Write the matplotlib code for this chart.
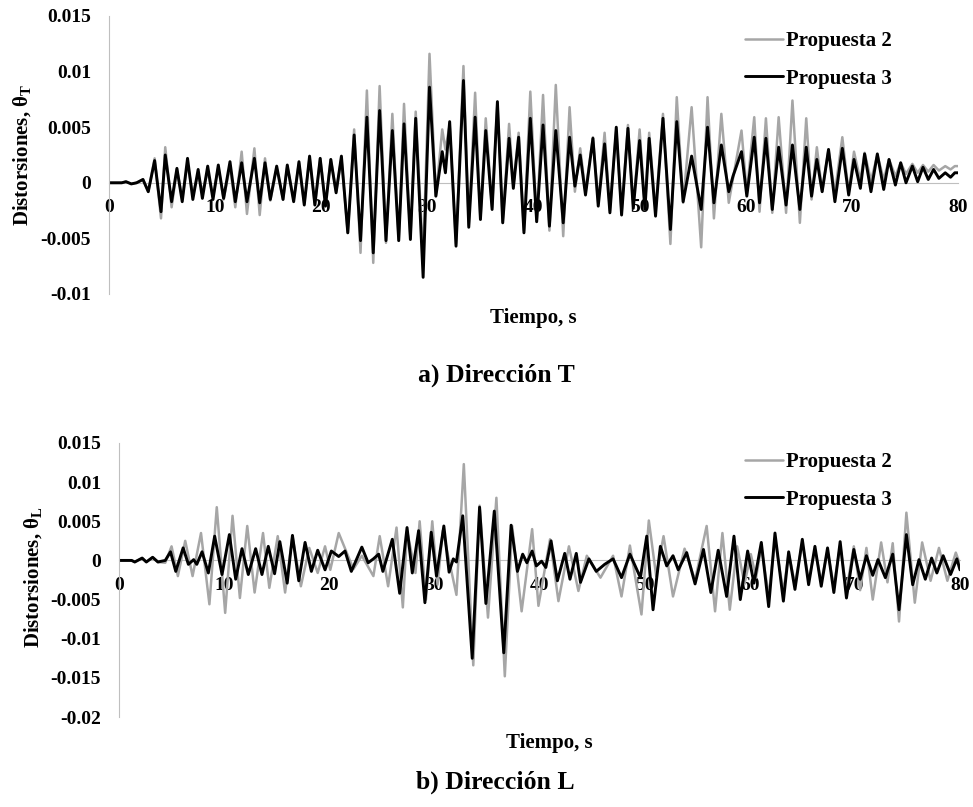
import numpy as np
import matplotlib
matplotlib.use('Agg')
from matplotlib import pyplot as plt

# --- data: peaks / troughs (time s, drift) ---

# a) Direccion T  (both series share the extremum times)
t_T = [0, 1.2, 1.6, 2.1, 2.6, 3.2, 3.7, 4.3, 4.9, 5.3,
       5.9, 6.4, 6.9, 7.4, 7.9, 8.4, 8.8, 9.3, 9.8, 10.3,
       10.8, 11.4, 11.9, 12.5, 13.0, 13.7, 14.2, 14.7, 15.2, 15.8,
       16.4, 16.8, 17.4, 17.9, 18.4, 18.9, 19.4, 19.9, 20.4, 20.9,
       21.4, 21.9, 22.5, 23.1, 23.7, 24.3, 24.9, 25.5, 26.1, 26.7,
       27.3, 27.8, 28.4, 28.9, 29.6, 30.2, 30.8, 31.4, 31.7, 32.1,
       32.7, 33.4, 33.9, 34.5, 35.0, 35.5, 36.1, 36.6, 37.1, 37.7,
       38.1, 38.6, 39.1, 39.7, 40.3, 40.9, 41.5, 42.1, 42.8, 43.4,
       43.9, 44.4, 44.9, 45.6, 46.1, 46.7, 47.2, 47.8, 48.3, 48.9,
       49.4, 50.0, 50.5, 50.9, 51.5, 52.2, 52.9, 53.5, 54.1, 54.9,
       55.8, 56.4, 57.0, 57.7, 58.4, 58.8, 59.6, 60.1, 60.8, 61.3,
       61.9, 62.5, 63.1, 63.8, 64.4, 65.1, 65.7, 66.2, 66.7, 67.2,
       67.8, 68.4, 69.1, 69.7, 70.2, 70.8, 71.2, 71.8, 72.4, 73.0,
       73.5, 74.1, 74.6, 75.1, 75.7, 76.2, 76.7, 77.2, 77.7, 78.2,
       78.8, 79.3, 79.7, 80.0]

p3_T = [0, 0, 0.0001, -0.0001, 0, 0.0003, -0.0008, 0.0020, -0.0026, 0.0025,
        -0.0017, 0.0013, -0.0017, 0.0022, -0.0015, 0.0012, -0.0014, 0.0015, -0.0015, 0.0016,
        -0.0014, 0.0019, -0.0017, 0.0018, -0.0017, 0.0022, -0.0018, 0.0018, -0.0015, 0.0015,
        -0.0015, 0.0016, -0.0017, 0.0019, -0.0020, 0.0024, -0.0020, 0.0022, -0.0021, 0.0021,
        -0.0009, 0.0024, -0.0045, 0.0043, -0.0052, 0.0059, -0.0063, 0.0065, -0.0052, 0.0047,
        -0.0052, 0.0053, -0.0051, 0.0058, -0.0085, 0.0086, -0.0012, 0.0028, 0.0009, 0.0055,
        -0.0057, 0.0092, -0.0040, 0.0059, -0.0033, 0.0047, -0.0024, 0.0073, -0.0036, 0.0040,
        -0.0005, 0.0041, -0.0045, 0.0058, -0.0035, 0.0052, -0.0039, 0.0047, -0.0036, 0.0041,
        -0.0003, 0.0025, -0.0011, 0.0040, -0.0021, 0.0035, -0.0027, 0.0050, -0.0029, 0.0049,
        -0.0023, 0.0038, -0.0024, 0.0040, -0.0030, 0.0058, -0.0042, 0.0055, -0.0017, 0.0024,
        -0.0024, 0.0050, -0.0018, 0.0034, -0.0008, 0.0006, 0.0028, -0.0012, 0.0041, -0.0018,
        0.0040, -0.0024, 0.0032, -0.0020, 0.0034, -0.0024, 0.0032, -0.0012, 0.0021, -0.0008,
        0.0030, -0.0017, 0.0031, -0.0011, 0.0021, -0.0005, 0.0026, -0.0008, 0.0026, -0.0006,
        0.0021, -0.0002, 0.0018, 0.0000, 0.0015, 0.0001, 0.0014, 0.0003, 0.0012, 0.0004,
        0.0009, 0.0005, 0.0009, 0.0009]

p2_T = [0, 0, 0.0001, -0.0001, 0, 0.0003, -0.0008, 0.0022, -0.0032, 0.0032,
        -0.0022, 0.0012, -0.0014, 0.0017, -0.0010, 0.0008, -0.0008, 0.0010, -0.0012, 0.0014,
        -0.0015, 0.0015, -0.0022, 0.0028, -0.0028, 0.0031, -0.0029, 0.0022, -0.0016, 0.0013,
        -0.0015, 0.0015, -0.0015, 0.0018, -0.0019, 0.0023, -0.0020, 0.0022, -0.0018, 0.0021,
        -0.0008, 0.0022, -0.0045, 0.0048, -0.0063, 0.0083, -0.0072, 0.0087, -0.0054, 0.0062,
        -0.0052, 0.0071, -0.0050, 0.0064, -0.0068, 0.0116, -0.0012, 0.0048, 0.0030, 0.0052,
        -0.0055, 0.0105, -0.0038, 0.0081, -0.0033, 0.0058, -0.0022, 0.0072, -0.0035, 0.0053,
        -0.0003, 0.0045, -0.0043, 0.0082, -0.0035, 0.0079, -0.0043, 0.0088, -0.0048, 0.0068,
        -0.0008, 0.0031, -0.0008, 0.0041, -0.0018, 0.0045, -0.0025, 0.0048, -0.0027, 0.0052,
        -0.0022, 0.0048, -0.0022, 0.0045, -0.0025, 0.0062, -0.0055, 0.0077, -0.0018, 0.0068,
        -0.0058, 0.0077, -0.0032, 0.0062, -0.0018, 0.0004, 0.0047, -0.0009, 0.0059, -0.0026,
        0.0058, -0.0027, 0.0059, -0.0027, 0.0074, -0.0036, 0.0058, -0.0015, 0.0032, -0.0008,
        0.0030, -0.0009, 0.0041, -0.0009, 0.0028, 0.0002, 0.0027, 0.0002, 0.0025, 0.0003,
        0.0021, 0.0006, 0.0018, 0.0008, 0.0017, 0.0009, 0.0016, 0.0010, 0.0016, 0.0011,
        0.0015, 0.0012, 0.0015, 0.0015]

# b) Direccion L
t3_L = [0, 1.2, 1.5, 2.2, 2.6, 3.2, 3.7, 4.4, 4.9, 5.4,
        6.1, 6.6, 7.1, 7.4, 7.9, 8.5, 9.1, 9.8, 10.5, 11.1,
        11.7, 12.3, 13.0, 13.6, 14.2, 14.8, 15.3, 16.0, 16.5, 17.1,
        17.7, 18.3, 18.9, 19.6, 20.2, 20.9, 21.5, 22.1, 23.1, 23.7,
        24.2, 24.7, 25.1, 26.0, 26.7, 27.4, 27.9, 28.5, 29.1, 29.7,
        30.2, 30.9, 31.4, 31.8, 32.1, 32.7, 33.6, 34.3, 34.9, 35.7,
        36.6, 37.3, 37.9, 38.4, 38.8, 39.3, 39.7, 40.2, 40.6, 41.1,
        41.7, 42.4, 42.9, 43.5, 43.9, 44.7, 45.4, 46.2, 47.0, 47.8,
        48.6, 49.6, 50.2, 50.8, 51.5, 52.1, 52.7, 53.2, 54.0, 54.8,
        55.6, 56.3, 57.0, 57.8, 58.5, 59.1, 59.8, 60.4, 61.1, 61.8,
        62.4, 63.2, 63.7, 64.3, 65.0, 65.6, 66.2, 66.8, 67.4, 68.0,
        68.6, 69.2, 69.9, 70.5, 71.1, 71.7, 72.2, 72.9, 73.6, 74.2,
        74.9, 75.5, 76.1, 76.7, 77.3, 77.8, 78.4, 79.1, 79.7, 80.0]

p3_L = [0, 0, -0.0002, 0.0003, -0.0002, 0.0004, -0.0002, 0, 0.0011, -0.0014,
        0.0016, -0.0005, 0.0001, -0.0005, 0.0011, -0.0016, 0.0031, -0.0018, 0.0033, -0.0024,
        0.0015, -0.0018, 0.0015, -0.0018, 0.0018, -0.0017, 0.0024, -0.0029, 0.0032, -0.0026,
        0.0023, -0.0014, 0.0013, -0.0012, 0.0012, 0.0005, 0.0012, -0.0014, 0.0017, -0.0003,
        0.0002, 0.0008, -0.0014, 0.0027, -0.0042, 0.0042, -0.0016, 0.0038, -0.0054, 0.0036,
        -0.0020, 0.0044, -0.0015, 0.0002, -0.0002, 0.0057, -0.0125, 0.0068, -0.0055, 0.0063,
        -0.0118, 0.0045, -0.0014, 0.0008, -0.0003, 0.0012, -0.0007, -0.0001, -0.0009, 0.0025,
        -0.0026, 0.0009, -0.0024, 0.0009, -0.0028, 0.0002, -0.0014, -0.0005, 0.0002, -0.0022,
        0.0008, -0.0022, 0.0031, -0.0063, 0.0018, -0.0007, 0.0006, -0.0012, 0.0010, -0.0030,
        0.0014, -0.0041, 0.0013, -0.0046, 0.0031, -0.0050, 0.0012, -0.0029, 0.0023, -0.0059,
        0.0035, -0.0052, 0.0011, -0.0037, 0.0027, -0.0031, 0.0018, -0.0033, 0.0016, -0.0041,
        0.0024, -0.0048, 0.0014, -0.0024, 0.0006, -0.0019, 0.0001, -0.0022, 0.0008, -0.0063,
        0.0033, -0.0031, 0.0001, -0.0024, 0.0003, -0.0016, 0.0006, -0.0018, 0.0002, -0.0012]

t2_L = [0, 1.2, 1.5, 2.2, 2.6, 3.2, 3.7, 4.4, 5.0, 5.6,
        6.3, 7.0, 7.8, 8.6, 9.3, 10.1, 10.8, 11.5, 12.2, 12.9,
        13.7, 14.3, 15.1, 15.8, 16.5, 17.3, 18.1, 18.9, 19.6, 20.1,
        20.9, 22.3, 23.1, 24.2, 24.8, 25.6, 26.4, 27.0, 27.4, 28.2,
        28.6, 29.2, 29.8, 30.3, 30.8, 32.1, 32.8, 33.7, 34.3, 35.1,
        35.9, 36.7, 37.4, 38.3, 39.3, 39.9, 41.0, 41.8, 42.8, 43.7,
        44.5, 45.8, 47.0, 47.8, 48.6, 49.7, 50.4, 51.1, 51.8, 52.7,
        53.8, 54.8, 55.9, 56.7, 57.4, 58.1, 58.8, 59.5, 60.1, 60.6,
        61.1, 61.8, 62.4, 63.2, 63.7, 64.3, 65.0, 65.6, 66.2, 66.8,
        67.4, 68.0, 68.6, 69.2, 69.9, 70.5, 71.1, 71.7, 72.5, 73.1,
        73.6, 74.2, 74.9, 75.7, 76.4, 77.2, 78.0, 78.8, 79.6, 80.0]

p2_L = [0, 0, -0.0002, 0.0003, -0.0002, 0.0004, -0.0002, -0.0003, 0.0018, -0.0020,
        0.0025, -0.0020, 0.0035, -0.0056, 0.0068, -0.0067, 0.0057, -0.0048, 0.0044, -0.0041,
        0.0035, -0.0035, 0.0031, -0.0041, 0.0031, -0.0033, 0.0016, -0.0016, 0.0018, -0.0012,
        0.0035, -0.0011, 0.0006, -0.0020, 0.0031, -0.0033, 0.0042, -0.0060, 0.0038, -0.0016,
        0.0050, -0.0050, 0.0050, -0.0031, 0.0038, -0.0044, 0.0123, -0.0134, 0.0070, -0.0073,
        0.0080, -0.0148, 0.0044, -0.0065, 0.0040, -0.0058, 0.0027, -0.0052, 0.0018, -0.0039,
        0.0006, -0.0022, 0.0006, -0.0046, 0.0019, -0.0069, 0.0051, -0.0020, 0.0031, -0.0046,
        0.0015, -0.0025, 0.0044, -0.0065, 0.0035, -0.0063, 0.0018, -0.0030, 0.0008, -0.0022,
        0.0017, -0.0045, 0.0026, -0.0040, 0.0009, -0.0030, 0.0022, -0.0025, 0.0013, -0.0027,
        0.0012, -0.0033, 0.0019, -0.0038, 0.0018, -0.0038, 0.0016, -0.0050, 0.0023, -0.0028,
        0.0022, -0.0078, 0.0061, -0.0054, 0.0023, -0.0026, 0.0016, -0.0026, 0.0010, -0.0005]

x_ticks = [0, 10, 20, 30, 40, 50, 60, 70, 80]
y_ticks_T = [-0.01, -0.005, 0, 0.005, 0.01, 0.015]
y_ticks_L = [-0.02, -0.015, -0.01, -0.005, 0, 0.005, 0.01, 0.015]

# --- style ---
plt.rcParams['font.family'] = ['Liberation Serif', 'DejaVu Serif']
plt.rcParams['font.weight'] = 'bold'
plt.rcParams['mathtext.fontset'] = 'custom'
plt.rcParams['mathtext.rm'] = 'Liberation Serif:bold'
plt.rcParams['mathtext.it'] = 'Liberation Serif:bold'
plt.rcParams['mathtext.bf'] = 'Liberation Serif:bold'

GRAY = '#A6A6A6'
AXIS = '#BFBFBF'
W, H = 973, 807


def draw(ax, t2, v2, t3, v3, ylim, yticks, legend_top):
    ax.plot(t2, v2, color=GRAY, lw=1.8, label='Propuesta 2',
            solid_joinstyle='round', solid_capstyle='round')
    ax.plot(t3, v3, color='black', lw=2.1, label='Propuesta 3',
            solid_joinstyle='round', solid_capstyle='round')
    ax.set_xlim(0, 80)
    ax.set_ylim(*ylim)
    ax.set_xticks(x_ticks)
    ax.set_xticklabels([str(x) for x in x_ticks])
    ax.set_yticks(yticks)
    ax.set_yticklabels([f'{y:g}' for y in yticks])
    for s in ['top', 'right']:
        ax.spines[s].set_visible(False)
    ax.spines['bottom'].set_position(('data', 0))
    ax.spines['bottom'].set_color(AXIS)
    ax.spines['bottom'].set_zorder(0)
    ax.spines['left'].set_color(AXIS)
    ax.tick_params(axis='both', length=0, labelsize=14)
    ax.tick_params(axis='y', pad=13)
    ax.tick_params(axis='x', pad=12)
    ax.legend(loc='upper left', bbox_to_anchor=(745 / W, 1 - legend_top / H),
              bbox_transform=ax.figure.transFigure, frameon=False, fontsize=15,
              handlelength=1.8, handletextpad=0.15, labelspacing=0.85,
              borderpad=0, borderaxespad=0)


fig = plt.figure(figsize=(W / 100, H / 100), dpi=100)

ax1 = fig.add_axes([109 / W, 1 - 294 / H, (958 - 109) / W, (294 - 16) / H])
draw(ax1, t_T, p2_T, t_T, p3_T, (-0.01, 0.015), y_ticks_T, 31)

ax2 = fig.add_axes([119 / W, 1 - 717 / H, (960 - 119) / W, (717 - 443) / H])
draw(ax2, t2_L, p2_L, t3_L, p3_L, (-0.02, 0.015), y_ticks_L, 452)

fig.text(22 / W, 1 - 155 / H, 'Distorsiones, θ$_{T}$', rotation=90,
         ha='center', va='center', fontsize=15)
fig.text(33 / W, 1 - 577 / H, 'Distorsiones, θ$_{L}$', rotation=90,
         ha='center', va='center', fontsize=15)

fig.text(533 / W, 1 - 318 / H, 'Tiempo, s', ha='center', va='center', fontsize=15)
fig.text(496 / W, 1 - 375 / H, 'a) Dirección T', ha='center', va='center', fontsize=18.5)
fig.text(549 / W, 1 - 743 / H, 'Tiempo, s', ha='center', va='center', fontsize=15)
fig.text(495 / W, 1 - 782 / H, 'b) Dirección L', ha='center', va='center', fontsize=18.5)

fig.savefig('out.png', dpi=100)
